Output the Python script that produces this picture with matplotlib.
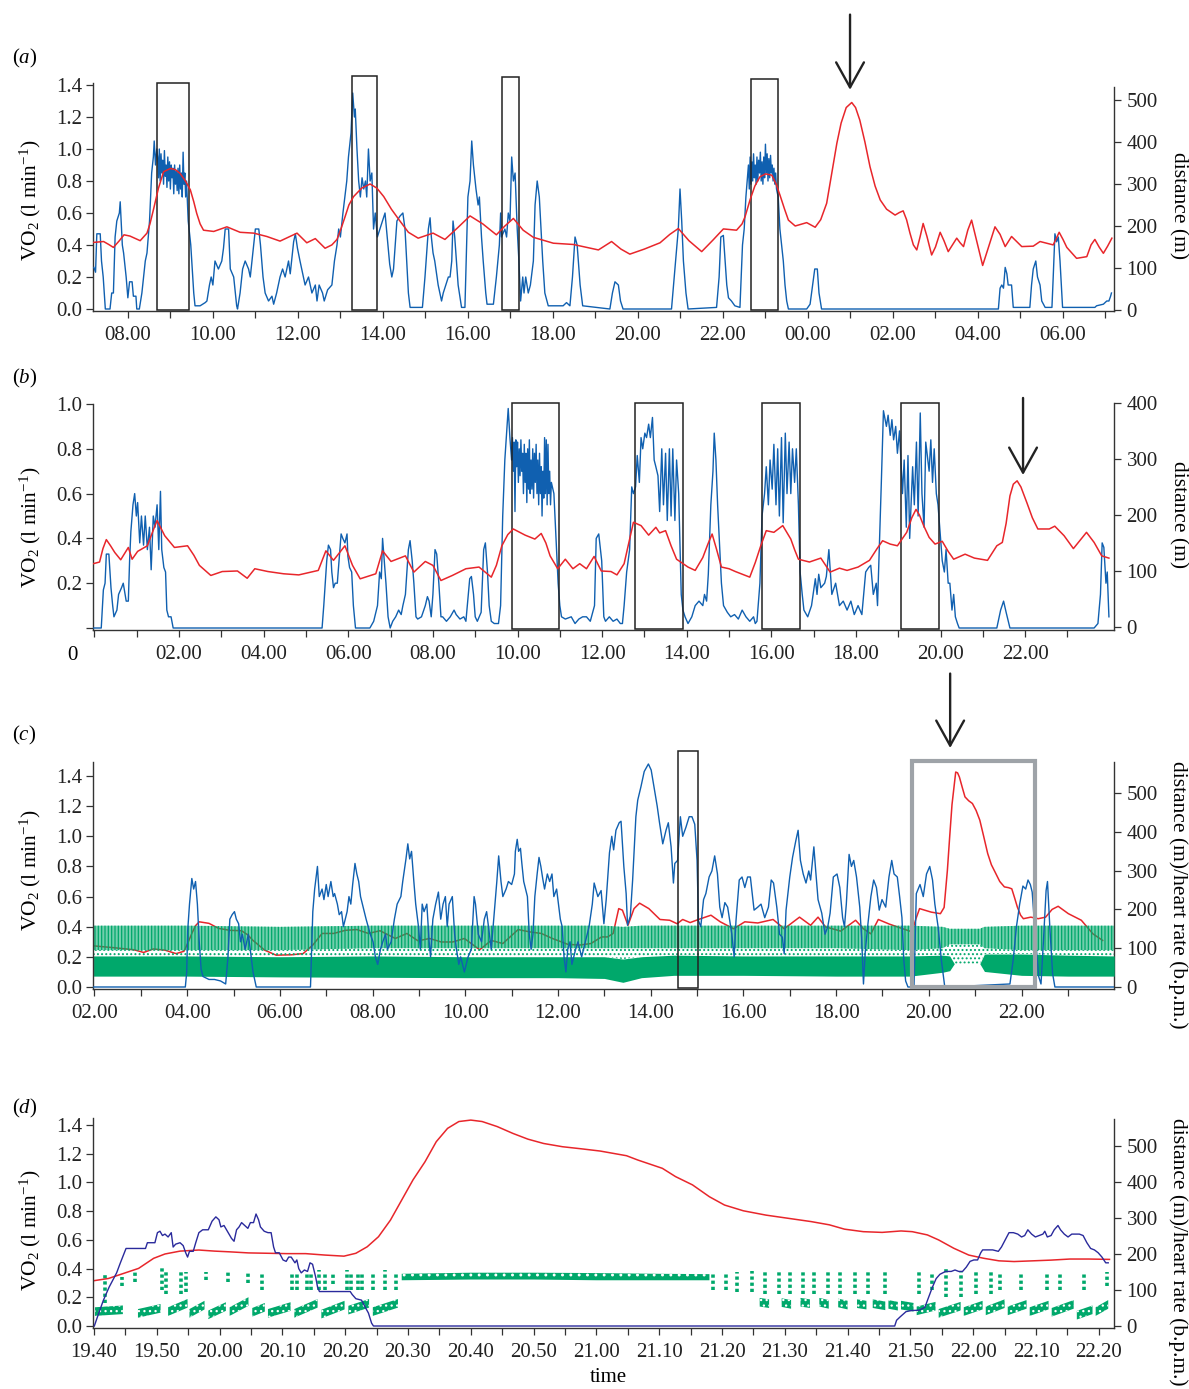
import numpy as np
import matplotlib
matplotlib.use('Agg')
import matplotlib.pyplot as plt
from matplotlib.patches import Rectangle, FancyArrowPatch

plt.rcParams['font.family'] = ['Liberation Serif', 'DejaVu Serif']
plt.rcParams['mathtext.fontset'] = 'custom'
plt.rcParams['mathtext.rm'] = 'Liberation Serif'
plt.rcParams['mathtext.it'] = 'Liberation Serif:italic'
plt.rcParams['hatch.linewidth'] = 0.9

BLUE = '#1060b0'
NAVY = '#2a2a9c'
RED = '#e8262b'
GREEN = '#00a86b'
DARK = '#222222'
GREY = '#9ea3a8'

# ---------------- panel (a): hours (past midnight -> >24) ----------------
vo2_a = [
    (7.20, 0.26), (7.24, 0.23), (7.27, 0.47), (7.35, 0.47), (7.38, 0.30), (7.42, 0.20), (7.47, 0.0),
    (7.58, 0.0), (7.62, 0.10), (7.66, 0.10), (7.70, 0.45), (7.74, 0.55), (7.80, 0.60), (7.82, 0.67),
    (7.87, 0.40), (7.90, 0.35), (7.96, 0.20), (8.00, 0.07), (8.04, 0.17), (8.10, 0.17), (8.13, 0.08),
    (8.19, 0.08), (8.21, 0.0), (8.27, 0.0), (8.33, 0.10), (8.41, 0.30), (8.45, 0.35), (8.51, 0.55),
    (8.56, 0.85), (8.60, 0.95), (8.62, 1.05), (8.65, 0.90), (8.68, 1.0),
    (8.70, 0.95), (8.72, 0.82), (8.74, 1.0), (8.76, 0.80), (8.78, 0.97), (8.80, 0.85), (8.82, 0.93),
    (8.84, 0.78), (8.86, 0.99), (8.88, 0.83), (8.90, 0.90), (8.92, 0.76), (8.94, 0.95), (8.96, 0.80),
    (8.98, 0.92), (9.00, 0.75), (9.02, 0.90), (9.04, 0.82), (9.06, 0.88), (9.08, 0.72), (9.10, 0.90),
    (9.12, 0.78), (9.14, 0.86), (9.16, 0.74), (9.18, 0.88), (9.20, 0.72), (9.22, 0.90), (9.24, 0.75),
    (9.26, 0.85), (9.28, 0.70), (9.30, 0.98), (9.32, 0.78), (9.34, 0.85), (9.36, 0.70), (9.38, 0.80),
    (9.42, 0.55), (9.48, 0.40), (9.55, 0.10), (9.58, 0.02), (9.70, 0.02), (9.82, 0.04), (9.86, 0.05),
    (9.92, 0.15), (9.96, 0.20), (10.00, 0.15), (10.05, 0.30), (10.13, 0.25), (10.21, 0.30), (10.25, 0.38),
    (10.29, 0.50), (10.33, 0.50), (10.37, 0.50), (10.41, 0.25), (10.49, 0.20), (10.56, 0.02), (10.58, 0.0),
    (10.64, 0.10), (10.70, 0.25), (10.76, 0.30), (10.84, 0.25), (10.88, 0.20), (10.96, 0.40), (11.00, 0.50),
    (11.08, 0.50), (11.12, 0.40), (11.18, 0.20), (11.23, 0.10), (11.31, 0.05), (11.39, 0.08), (11.43, 0.03),
    (11.50, 0.10), (11.58, 0.20), (11.64, 0.25), (11.70, 0.20), (11.78, 0.30), (11.82, 0.22), (11.90, 0.42),
    (11.94, 0.47), (11.99, 0.38), (12.05, 0.30), (12.13, 0.20), (12.17, 0.15), (12.25, 0.20), (12.33, 0.10),
    (12.41, 0.15), (12.45, 0.05), (12.50, 0.15), (12.58, 0.10), (12.62, 0.05), (12.70, 0.12), (12.80, 0.15),
    (12.84, 0.25), (12.86, 0.30), (12.92, 0.40), (12.96, 0.50), (13.00, 0.45), (13.06, 0.60), (13.15, 0.80),
    (13.19, 0.95), (13.25, 1.10), (13.29, 1.35), (13.33, 1.20), (13.35, 1.25), (13.39, 1.00), (13.43, 0.80),
    (13.47, 0.70), (13.51, 0.82), (13.55, 0.75), (13.59, 0.80), (13.62, 0.70), (13.66, 1.00), (13.70, 0.80),
    (13.74, 0.85), (13.78, 0.50), (13.82, 0.60), (13.87, 0.45), (13.93, 0.50), (14.05, 0.60), (14.16, 0.28),
    (14.21, 0.20), (14.25, 0.25), (14.33, 0.55), (14.40, 0.58), (14.47, 0.60), (14.52, 0.50), (14.56, 0.30),
    (14.60, 0.10), (14.64, 0.01), (14.93, 0.01), (14.99, 0.20), (15.07, 0.50), (15.11, 0.57), (15.14, 0.45),
    (15.18, 0.35), (15.22, 0.30), (15.30, 0.15), (15.38, 0.05), (15.42, 0.10), (15.54, 0.20), (15.58, 0.20),
    (15.62, 0.30), (15.65, 0.55), (15.69, 0.45), (15.77, 0.15), (15.85, 0.01), (15.93, 0.01), (15.97, 0.40),
    (16.00, 0.70), (16.05, 0.80), (16.09, 1.05), (16.13, 0.90), (16.19, 0.75), (16.24, 0.65), (16.27, 0.70),
    (16.32, 0.45), (16.36, 0.30), (16.42, 0.10), (16.45, 0.03), (16.60, 0.03), (16.67, 0.20), (16.74, 0.40),
    (16.77, 0.60), (16.79, 0.45), (16.87, 0.50), (16.91, 0.45), (16.95, 0.60), (16.99, 0.55), (17.03, 0.95),
    (17.07, 0.80), (17.11, 0.85), (17.16, 0.50), (17.20, 0.30), (17.24, 0.05), (17.29, 0.20), (17.32, 0.10),
    (17.36, 0.20), (17.42, 0.10), (17.47, 0.15), (17.54, 0.30), (17.58, 0.65), (17.63, 0.80), (17.68, 0.70),
    (17.76, 0.30), (17.81, 0.10), (17.89, 0.02), (18.24, 0.02), (18.32, 0.04), (18.40, 0.02), (18.46, 0.20),
    (18.52, 0.45), (18.57, 0.40), (18.64, 0.15), (18.70, 0.02), (19.34, 0.0), (19.40, 0.10), (19.46, 0.17),
    (19.54, 0.15), (19.59, 0.05), (19.65, 0.0), (20.79, 0.0), (20.87, 0.25), (20.95, 0.50), (20.99, 0.75),
    (21.03, 0.55), (21.07, 0.30), (21.13, 0.10), (21.18, 0.0), (21.85, 0.01), (21.91, 0.20), (21.95, 0.45),
    (22.01, 0.46), (22.05, 0.30), (22.09, 0.15), (22.13, 0.07), (22.20, 0.05), (22.28, 0.02), (22.40, 0.01),
    (22.46, 0.40), (22.50, 0.50), (22.54, 0.70), (22.60, 0.90),
    (22.62, 0.75), (22.64, 0.95), (22.66, 0.78), (22.68, 0.92), (22.70, 0.80), (22.72, 0.97), (22.74, 0.82),
    (22.76, 0.90), (22.78, 0.78), (22.80, 0.95), (22.82, 0.80), (22.84, 0.93), (22.86, 0.85), (22.88, 0.98),
    (22.90, 0.80), (22.92, 0.92), (22.94, 0.78), (22.96, 0.95), (22.98, 0.82), (23.00, 1.03), (23.02, 0.85),
    (23.04, 0.97), (23.06, 0.80), (23.08, 0.94), (23.10, 0.82), (23.12, 0.96), (23.14, 0.85), (23.16, 0.90),
    (23.18, 0.80), (23.20, 0.88), (23.22, 0.78), (23.24, 0.85), (23.26, 0.75),
    (23.30, 0.70), (23.34, 0.50), (23.38, 0.40), (23.42, 0.30), (23.46, 0.15), (23.50, 0.05), (23.54, 0.0),
    (23.97, 0.0), (24.05, 0.03), (24.11, 0.15), (24.16, 0.25), (24.22, 0.25), (24.26, 0.10), (24.32, 0.0),
    (28.48, 0.0), (28.52, 0.13), (28.56, 0.15), (28.60, 0.13), (28.64, 0.26), (28.68, 0.22), (28.71, 0.15),
    (28.79, 0.15), (28.83, 0.01), (29.22, 0.01), (29.26, 0.15), (29.30, 0.25), (29.36, 0.30), (29.40, 0.20),
    (29.46, 0.15), (29.50, 0.05), (29.58, 0.01), (29.74, 0.01), (29.77, 0.20), (29.81, 0.47), (29.85, 0.42),
    (29.89, 0.45), (29.93, 0.30), (29.99, 0.01), (30.75, 0.01), (30.79, 0.02), (30.95, 0.03), (31.03, 0.05),
    (31.08, 0.05), (31.12, 0.08), (31.14, 0.10),
]
dist_a = [
    (7.20, 161), (7.43, 163), (7.55, 156), (7.66, 149), (7.80, 165), (7.91, 179), (8.05, 176), (8.29, 165),
    (8.45, 183), (8.52, 205), (8.60, 238), (8.72, 290), (8.84, 329), (9.00, 337), (9.12, 334), (9.23, 325),
    (9.35, 308), (9.47, 286), (9.55, 258), (9.62, 230), (9.70, 205), (9.78, 190), (10.02, 187), (10.33, 198),
    (10.64, 185), (10.96, 183), (11.27, 175), (11.58, 164), (11.98, 183), (12.21, 160), (12.41, 170),
    (12.64, 147), (12.80, 155), (12.92, 168), (13.02, 195), (13.11, 222), (13.20, 250), (13.31, 270),
    (13.50, 290), (13.70, 300), (13.86, 290), (14.02, 270), (14.20, 240), (14.40, 212), (14.60, 185),
    (14.83, 171), (15.18, 183), (15.46, 168), (15.75, 195), (16.05, 224), (16.35, 205), (16.67, 179),
    (16.87, 200), (17.07, 218), (17.30, 190), (17.54, 173), (18.01, 159), (18.48, 156), (19.07, 143),
    (19.38, 163), (19.60, 145), (19.81, 133), (20.15, 145), (20.52, 160), (20.75, 180), (20.95, 194),
    (21.20, 165), (21.50, 139), (21.77, 167), (22.01, 193), (22.32, 190), (22.45, 205), (22.52, 222),
    (22.64, 263), (22.75, 295), (22.87, 317), (23.00, 324), (23.15, 321), (23.25, 300), (23.34, 274),
    (23.45, 240), (23.54, 214), (23.70, 200), (23.97, 208), (24.17, 197), (24.30, 215), (24.44, 254),
    (24.55, 320), (24.68, 397), (24.78, 445), (24.90, 482), (25.03, 494), (25.12, 482), (25.22, 452),
    (25.34, 400), (25.46, 341), (25.58, 295), (25.70, 262), (25.85, 240), (26.05, 226), (26.15, 232),
    (26.24, 236), (26.32, 215), (26.40, 183), (26.48, 155), (26.56, 143), (26.64, 175), (26.71, 206),
    (26.80, 175), (26.91, 131), (27.00, 150), (27.11, 185), (27.20, 165), (27.30, 139), (27.40, 155),
    (27.50, 171), (27.58, 160), (27.66, 151), (27.76, 190), (27.85, 214), (27.98, 160), (28.11, 106),
    (28.25, 150), (28.40, 198), (28.52, 180), (28.64, 151), (28.79, 175), (29.03, 151), (29.30, 152),
    (29.46, 163), (29.77, 155), (29.91, 185), (30.00, 168), (30.09, 149), (30.32, 123), (30.56, 127),
    (30.66, 155), (30.75, 168), (30.85, 150), (30.95, 135), (31.05, 152), (31.15, 171),
]
box_a_t0 = [8.69, 13.27, 16.80, 22.66]
box_a_t1 = [9.44, 13.86, 17.20, 23.30]
box_a_top = [1.41, 1.456, 1.45, 1.44]
arrow_a = (24.99, 1.84, 1.37)

# ---------------- panel (b) ----------------
vo2_b = [
    (-0.03, 0.0), (0.16, 0.0), (0.21, 0.17), (0.25, 0.20), (0.28, 0.33), (0.34, 0.33), (0.39, 0.18),
    (0.43, 0.10), (0.46, 0.05), (0.53, 0.08), (0.57, 0.15), (0.64, 0.18), (0.68, 0.20), (0.75, 0.12),
    (0.80, 0.12), (0.83, 0.30), (0.86, 0.43), (0.91, 0.55), (0.95, 0.60), (0.99, 0.50), (1.02, 0.56),
    (1.07, 0.38), (1.11, 0.50), (1.16, 0.37), (1.20, 0.50), (1.25, 0.35), (1.30, 0.45), (1.34, 0.26),
    (1.39, 0.50), (1.43, 0.45), (1.48, 0.55), (1.52, 0.35), (1.56, 0.61), (1.59, 0.35), (1.64, 0.27),
    (1.68, 0.25), (1.71, 0.08), (1.75, 0.05), (1.81, 0.05), (1.86, 0.0), (5.38, 0.0), (5.42, 0.10),
    (5.49, 0.30), (5.53, 0.37), (5.58, 0.35), (5.61, 0.25), (5.65, 0.18), (5.69, 0.20), (5.74, 0.20),
    (5.78, 0.30), (5.83, 0.42), (5.87, 0.40), (5.92, 0.38), (5.97, 0.42), (5.99, 0.32), (6.03, 0.27),
    (6.08, 0.25), (6.12, 0.10), (6.17, 0.0), (6.51, 0.0), (6.60, 0.03), (6.69, 0.10), (6.74, 0.25),
    (6.78, 0.22), (6.81, 0.40), (6.85, 0.30), (6.89, 0.20), (6.94, 0.05), (6.99, 0.0), (7.05, 0.03),
    (7.12, 0.05), (7.19, 0.08), (7.25, 0.06), (7.29, 0.10), (7.35, 0.15), (7.42, 0.35), (7.46, 0.39),
    (7.51, 0.30), (7.55, 0.20), (7.60, 0.05), (7.64, 0.04), (7.73, 0.05), (7.82, 0.10), (7.87, 0.14),
    (7.91, 0.12), (7.96, 0.05), (8.00, 0.15), (8.05, 0.35), (8.09, 0.33), (8.14, 0.20), (8.19, 0.05),
    (8.23, 0.05), (8.32, 0.03), (8.41, 0.05), (8.50, 0.08), (8.55, 0.06), (8.64, 0.04), (8.73, 0.05),
    (8.78, 0.03), (8.87, 0.22), (8.91, 0.23), (8.96, 0.15), (9.00, 0.05), (9.05, 0.03), (9.14, 0.07),
    (9.20, 0.35), (9.24, 0.38), (9.29, 0.25), (9.33, 0.10), (9.38, 0.03), (9.45, 0.02), (9.55, 0.02),
    (9.60, 0.10), (9.65, 0.50), (9.70, 0.75), (9.78, 0.98), (9.82, 0.85), (9.86, 0.75),
    (9.88, 0.85), (9.90, 0.70), (9.92, 0.83), (9.94, 0.52), (9.96, 0.84), (9.98, 0.72), (10.00, 0.83),
    (10.02, 0.65), (10.04, 0.80), (10.06, 0.68), (10.08, 0.84), (10.10, 0.70), (10.12, 0.78), (10.14, 0.60),
    (10.16, 0.82), (10.18, 0.65), (10.20, 0.78), (10.22, 0.56), (10.24, 0.80), (10.26, 0.62), (10.28, 0.84),
    (10.30, 0.60), (10.32, 0.75), (10.34, 0.62), (10.36, 0.80), (10.38, 0.58), (10.40, 0.78), (10.42, 0.65),
    (10.44, 0.82), (10.46, 0.60), (10.48, 0.75), (10.50, 0.55), (10.52, 0.78), (10.54, 0.60), (10.56, 0.72),
    (10.58, 0.50), (10.60, 0.70), (10.62, 0.58), (10.64, 0.85), (10.66, 0.60), (10.68, 0.84), (10.70, 0.55),
    (10.72, 0.82), (10.74, 0.60), (10.76, 0.70), (10.78, 0.55), (10.80, 0.65),
    (10.86, 0.60), (10.91, 0.40), (10.96, 0.20), (11.00, 0.10), (11.04, 0.05), (11.13, 0.04), (11.27, 0.05),
    (11.36, 0.02), (11.45, 0.04), (11.54, 0.05), (11.63, 0.05), (11.72, 0.03), (11.82, 0.10), (11.86, 0.40),
    (11.92, 0.42), (11.99, 0.30), (12.04, 0.05), (12.08, 0.03), (12.17, 0.05), (12.26, 0.03), (12.35, 0.04),
    (12.43, 0.02), (12.48, 0.02), (12.52, 0.10), (12.58, 0.25), (12.65, 0.35), (12.70, 0.63), (12.74, 0.60),
    (12.79, 0.63), (12.83, 0.77), (12.88, 0.65), (12.92, 0.85), (12.96, 0.80), (13.01, 0.87), (13.05, 0.85),
    (13.10, 0.91), (13.14, 0.85), (13.19, 0.94), (13.23, 0.75), (13.27, 0.72), (13.32, 0.68), (13.36, 0.52),
    (13.41, 0.80), (13.45, 0.55), (13.50, 0.78), (13.54, 0.48), (13.59, 0.80), (13.63, 0.50), (13.67, 0.80),
    (13.72, 0.48), (13.76, 0.75), (13.81, 0.60), (13.83, 0.45), (13.87, 0.15), (13.91, 0.08), (13.96, 0.05),
    (14.03, 0.02), (14.12, 0.05), (14.20, 0.10), (14.29, 0.12), (14.38, 0.10), (14.42, 0.15), (14.47, 0.12),
    (14.51, 0.24), (14.57, 0.55), (14.62, 0.70), (14.65, 0.87), (14.69, 0.75), (14.73, 0.55), (14.78, 0.35),
    (14.82, 0.20), (14.87, 0.10), (14.96, 0.07), (15.04, 0.05), (15.13, 0.06), (15.22, 0.04), (15.31, 0.08),
    (15.40, 0.05), (15.49, 0.03), (15.58, 0.05), (15.62, 0.02), (15.66, 0.03), (15.73, 0.20), (15.78, 0.50),
    (15.84, 0.60), (15.88, 0.72), (15.93, 0.55), (15.97, 0.75), (16.02, 0.62), (16.06, 0.82), (16.11, 0.55),
    (16.15, 0.80), (16.19, 0.50), (16.24, 0.85), (16.28, 0.47), (16.33, 0.87), (16.37, 0.60), (16.42, 0.83),
    (16.46, 0.60), (16.50, 0.80), (16.55, 0.65), (16.59, 0.80), (16.64, 0.55), (16.68, 0.25), (16.73, 0.15),
    (16.77, 0.08), (16.86, 0.05), (16.95, 0.10), (17.04, 0.22), (17.08, 0.15), (17.12, 0.24), (17.17, 0.18),
    (17.26, 0.20), (17.30, 0.23), (17.36, 0.35), (17.43, 0.15), (17.52, 0.20), (17.61, 0.10), (17.70, 0.12),
    (17.79, 0.08), (17.88, 0.12), (17.96, 0.06), (18.05, 0.10), (18.14, 0.06), (18.23, 0.25), (18.30, 0.27),
    (18.35, 0.28), (18.41, 0.15), (18.48, 0.20), (18.51, 0.10), (18.56, 0.40), (18.60, 0.65), (18.65, 0.97),
    (18.72, 0.90), (18.76, 0.95), (18.81, 0.86), (18.85, 0.93), (18.89, 0.84), (18.94, 0.90), (18.98, 0.78),
    (19.03, 0.88), (19.05, 0.80), (19.10, 0.60), (19.14, 0.75), (19.19, 0.45), (19.23, 0.77), (19.27, 0.40),
    (19.34, 0.72), (19.38, 0.55), (19.43, 0.83), (19.47, 0.50), (19.52, 0.96), (19.56, 0.60), (19.61, 0.45),
    (19.65, 0.83), (19.73, 0.70), (19.77, 0.84), (19.81, 0.65), (19.85, 0.80), (19.90, 0.60), (19.94, 0.55),
    (19.98, 0.45), (20.04, 0.30), (20.09, 0.25), (20.13, 0.35), (20.18, 0.20), (20.22, 0.20), (20.27, 0.08),
    (20.31, 0.15), (20.35, 0.05), (20.40, 0.02), (20.44, 0.0), (21.33, 0.0), (21.42, 0.08), (21.49, 0.12),
    (21.55, 0.07), (21.64, 0.0), (23.63, 0.0), (23.72, 0.02), (23.78, 0.15), (23.82, 0.38), (23.86, 0.36),
    (23.91, 0.20), (23.94, 0.25), (23.98, 0.05),
]
dist_b = [
    (-0.03, 113), (0.12, 116), (0.20, 140), (0.28, 156), (0.38, 145), (0.48, 133), (0.62, 120), (0.80, 142),
    (0.89, 121), (1.02, 135), (1.25, 145), (1.40, 175), (1.48, 190), (1.56, 178), (1.66, 163), (1.89, 142),
    (2.20, 145), (2.35, 128), (2.48, 110), (2.75, 92), (3.02, 99), (3.38, 100), (3.61, 87), (3.79, 104),
    (4.10, 99), (4.47, 95), (4.83, 93), (5.29, 101), (5.47, 136), (5.65, 119), (5.92, 145), (6.10, 110),
    (6.28, 86), (6.65, 95), (6.81, 136), (7.01, 117), (7.35, 127), (7.55, 98), (7.82, 117), (8.00, 110),
    (8.19, 83), (8.46, 92), (8.78, 104), (9.09, 107), (9.38, 89), (9.50, 110), (9.63, 145), (9.77, 165),
    (9.90, 175), (10.18, 164), (10.41, 157), (10.56, 167), (10.67, 150), (10.77, 127), (10.95, 104),
    (11.13, 121), (11.31, 104), (11.47, 113), (11.63, 104), (11.81, 126), (11.98, 100), (12.21, 99),
    (12.35, 93), (12.52, 113), (12.63, 150), (12.74, 187), (12.92, 181), (13.10, 164), (13.27, 178),
    (13.36, 168), (13.50, 172), (13.63, 145), (13.76, 121), (14.03, 107), (14.20, 101), (14.38, 124),
    (14.50, 148), (14.60, 166), (14.70, 140), (14.82, 107), (15.00, 104), (15.15, 99), (15.49, 89),
    (15.62, 115), (15.75, 145), (15.88, 172), (16.06, 169), (16.27, 181), (16.46, 157), (16.55, 138),
    (16.64, 121), (16.90, 116), (17.17, 123), (17.39, 98), (17.61, 105), (17.79, 101), (18.05, 107),
    (18.32, 119), (18.50, 140), (18.63, 154), (18.81, 148), (18.98, 145), (19.20, 169), (19.32, 195),
    (19.42, 210), (19.50, 200), (19.60, 181), (19.73, 160), (19.87, 148), (20.04, 153), (20.18, 135),
    (20.31, 121), (20.58, 130), (20.80, 123), (21.11, 119), (21.33, 145), (21.46, 151), (21.55, 185),
    (21.64, 234), (21.72, 255), (21.81, 261), (21.90, 250), (22.04, 222), (22.17, 195), (22.30, 175),
    (22.57, 175), (22.70, 180), (22.92, 163), (23.14, 140), (23.30, 155), (23.45, 169), (23.63, 151),
    (23.81, 127), (23.98, 123),
]
box_b_t0 = [9.86, 12.77, 15.77, 19.06]
box_b_t1 = [10.99, 13.90, 16.67, 19.96]
box_b_top = [1.004, 1.004, 1.004, 1.004]
arrow_b = (21.95, 1.027, 0.683)

# ---------------- panel (c) ----------------
vo2_c = [
    (1.98, 0.0), (3.96, 0.0), (3.99, 0.10), (4.01, 0.37), (4.05, 0.55), (4.10, 0.72), (4.14, 0.65),
    (4.18, 0.70), (4.22, 0.55), (4.26, 0.30), (4.30, 0.12), (4.34, 0.07), (4.47, 0.05), (4.59, 0.05),
    (4.72, 0.04), (4.83, 0.02), (4.88, 0.20), (4.92, 0.45), (4.97, 0.48), (5.02, 0.50), (5.06, 0.45),
    (5.11, 0.42), (5.15, 0.30), (5.19, 0.35), (5.25, 0.25), (5.32, 0.35), (5.38, 0.20), (5.42, 0.10),
    (5.49, 0.0), (6.66, 0.0), (6.71, 0.50), (6.75, 0.65), (6.81, 0.80), (6.85, 0.60), (6.91, 0.65),
    (6.95, 0.58), (7.00, 0.68), (7.04, 0.60), (7.10, 0.70), (7.15, 0.60), (7.18, 0.62), (7.24, 0.55),
    (7.28, 0.48), (7.33, 0.50), (7.37, 0.40), (7.45, 0.50), (7.49, 0.60), (7.53, 0.55), (7.57, 0.68),
    (7.62, 0.82), (7.66, 0.75), (7.70, 0.70), (7.74, 0.60), (7.78, 0.55), (7.86, 0.45), (7.95, 0.35),
    (8.01, 0.30), (8.06, 0.20), (8.11, 0.15), (8.17, 0.25), (8.22, 0.30), (8.28, 0.35), (8.32, 0.25),
    (8.40, 0.30), (8.47, 0.45), (8.53, 0.55), (8.61, 0.60), (8.65, 0.70), (8.72, 0.85), (8.76, 0.95),
    (8.80, 0.85), (8.84, 0.90), (8.89, 0.70), (8.93, 0.55), (8.99, 0.40), (9.03, 0.25), (9.07, 0.55),
    (9.11, 0.50), (9.17, 0.55), (9.22, 0.30), (9.25, 0.20), (9.30, 0.45), (9.36, 0.55), (9.42, 0.63),
    (9.47, 0.45), (9.52, 0.55), (9.57, 0.60), (9.61, 0.40), (9.65, 0.55), (9.72, 0.60), (9.77, 0.35),
    (9.81, 0.25), (9.86, 0.15), (9.90, 0.20), (9.98, 0.10), (10.06, 0.20), (10.13, 0.25), (10.19, 0.60),
    (10.22, 0.55), (10.28, 0.35), (10.35, 0.30), (10.41, 0.45), (10.46, 0.50), (10.52, 0.35), (10.56, 0.25),
    (10.64, 0.55), (10.68, 0.70), (10.72, 0.87), (10.77, 0.70), (10.81, 0.60), (10.88, 0.65), (10.93, 0.70),
    (11.00, 0.68), (11.06, 0.75), (11.08, 0.90), (11.12, 0.98), (11.15, 0.90), (11.19, 0.92), (11.22, 0.82),
    (11.26, 0.70), (11.30, 0.65), (11.34, 0.60), (11.38, 0.35), (11.42, 0.25), (11.46, 0.35), (11.50, 0.60),
    (11.55, 0.75), (11.59, 0.86), (11.63, 0.80), (11.67, 0.72), (11.71, 0.65), (11.77, 0.75), (11.82, 0.70),
    (11.87, 0.75), (11.91, 0.60), (11.97, 0.65), (12.01, 0.55), (12.05, 0.45), (12.09, 0.40), (12.13, 0.20),
    (12.17, 0.10), (12.21, 0.25), (12.26, 0.30), (12.30, 0.15), (12.38, 0.25), (12.43, 0.30), (12.51, 0.20),
    (12.59, 0.30), (12.67, 0.40), (12.74, 0.55), (12.78, 0.69), (12.86, 0.60), (12.93, 0.64), (12.99, 0.42),
    (13.04, 0.58), (13.11, 0.89), (13.16, 1.00), (13.20, 0.91), (13.25, 1.04), (13.32, 1.09), (13.36, 1.10),
    (13.42, 0.80), (13.47, 0.62), (13.50, 0.41), (13.56, 0.47), (13.61, 0.71), (13.68, 1.13), (13.72, 1.24),
    (13.79, 1.33), (13.86, 1.43), (13.95, 1.48), (14.01, 1.44), (14.08, 1.31), (14.14, 1.20), (14.19, 1.09),
    (14.26, 0.95), (14.33, 1.04), (14.38, 1.09), (14.44, 0.93), (14.49, 0.69), (14.52, 0.82), (14.58, 0.84),
    (14.64, 1.13), (14.69, 1.00), (14.76, 1.06), (14.83, 1.13), (14.89, 1.13), (14.95, 1.08), (15.00, 0.84),
    (15.03, 0.44), (15.08, 0.40), (15.14, 0.58), (15.19, 0.62), (15.26, 0.73), (15.32, 0.77), (15.38, 0.87),
    (15.44, 0.75), (15.49, 0.53), (15.54, 0.46), (15.60, 0.56), (15.66, 0.53), (15.75, 0.35), (15.80, 0.20),
    (15.84, 0.44), (15.91, 0.71), (15.97, 0.73), (16.03, 0.66), (16.09, 0.73), (16.15, 0.73), (16.23, 0.51),
    (16.31, 0.53), (16.38, 0.55), (16.46, 0.46), (16.54, 0.53), (16.60, 0.71), (16.65, 0.69), (16.72, 0.53),
    (16.78, 0.35), (16.84, 0.33), (16.88, 0.22), (16.92, 0.51), (17.00, 0.73), (17.06, 0.86), (17.13, 0.97),
    (17.18, 1.04), (17.23, 0.84), (17.29, 0.75), (17.35, 0.69), (17.41, 0.77), (17.45, 0.71), (17.52, 0.93),
    (17.56, 0.77), (17.61, 0.58), (17.69, 0.49), (17.76, 0.35), (17.82, 0.40), (17.87, 0.49), (17.94, 0.73),
    (18.02, 0.75), (18.08, 0.66), (18.14, 0.46), (18.18, 0.40), (18.22, 0.55), (18.28, 0.88), (18.33, 0.80),
    (18.38, 0.84), (18.44, 0.73), (18.51, 0.53), (18.55, 0.33), (18.59, 0.02), (18.63, 0.24), (18.68, 0.40),
    (18.75, 0.60), (18.81, 0.71), (18.87, 0.66), (18.93, 0.51), (18.99, 0.58), (19.07, 0.53), (19.14, 0.73),
    (19.20, 0.84), (19.25, 0.75), (19.32, 0.73), (19.37, 0.60), (19.42, 0.46), (19.46, 0.18), (19.50, 0.04),
    (19.55, 0.0), (19.68, 0.0), (19.73, 0.62), (19.81, 0.68), (19.88, 0.60), (19.95, 0.75), (20.02, 0.80),
    (20.08, 0.71), (20.13, 0.55), (20.20, 0.40), (20.27, 0.18), (20.34, 0.01), (20.40, 0.0), (21.75, 0.02),
    (21.82, 0.18), (21.89, 0.40), (21.96, 0.55), (22.03, 0.67), (22.09, 0.65), (22.14, 0.71), (22.19, 0.68),
    (22.23, 0.63), (22.31, 0.29), (22.37, 0.07), (22.42, 0.02), (22.47, 0.29), (22.53, 0.64), (22.56, 0.70),
    (22.61, 0.40), (22.67, 0.09), (22.72, 0.0), (24.0, 0.0),
]
dist_c = [
    (1.98, 106), (2.44, 101), (2.85, 96), (3.06, 89), (3.27, 98), (3.52, 95), (3.76, 86), (3.93, 92),
    (4.02, 115), (4.10, 138), (4.18, 158), (4.26, 168), (4.47, 164), (4.68, 151), (4.92, 146), (5.17, 145),
    (5.30, 135), (5.42, 120), (5.67, 95), (5.92, 82), (6.25, 83), (6.50, 86), (6.71, 108), (6.91, 138),
    (7.16, 138), (7.41, 146), (7.66, 148), (7.91, 138), (8.16, 145), (8.49, 125), (8.74, 138), (8.98, 119),
    (9.23, 125), (9.48, 116), (9.73, 116), (9.98, 125), (10.31, 96), (10.56, 120), (10.81, 112),
    (11.14, 148), (11.39, 142), (11.64, 138), (11.88, 125), (12.21, 110), (12.46, 108), (12.71, 112),
    (12.94, 129), (13.07, 129), (13.19, 138), (13.31, 202), (13.39, 198), (13.51, 159), (13.64, 202),
    (13.76, 216), (13.96, 202), (14.20, 174), (14.41, 172), (14.57, 163), (14.69, 174), (14.85, 166),
    (15.03, 174), (15.30, 185), (15.50, 168), (15.79, 150), (16.03, 168), (16.31, 165), (16.64, 174),
    (16.88, 150), (17.21, 180), (17.45, 159), (17.61, 180), (17.77, 155), (18.10, 144), (18.42, 172),
    (18.59, 150), (18.75, 137), (18.91, 174), (19.15, 162), (19.44, 150), (19.64, 142), (19.72, 175),
    (19.80, 202), (20.05, 193), (20.25, 189), (20.33, 205), (20.40, 300), (20.45, 387), (20.50, 470),
    (20.58, 554), (20.62, 552), (20.66, 541), (20.72, 515), (20.78, 490), (20.86, 480), (20.94, 473),
    (21.02, 455), (21.10, 430), (21.18, 390), (21.27, 344), (21.35, 315), (21.43, 296), (21.53, 272),
    (21.63, 258), (21.72, 256), (21.79, 253), (21.85, 230), (21.91, 206), (21.98, 185), (22.04, 176),
    (22.20, 180), (22.36, 176), (22.52, 180), (22.66, 200), (22.79, 208), (23.01, 189), (23.29, 172),
    (23.54, 137), (23.75, 120),
]
# heart rate clouds in (c): envelopes of the dense lower band and the streaky upper band (b.p.m.)
hr_c_t = [1.98, 4.0, 6.0, 8.0, 10.0, 12.0, 13.0, 13.4, 13.8, 14.5, 16.0, 18.0, 19.6, 20.3, 20.45,
          20.55, 21.1, 21.2, 22.0, 23.0, 24.0]
hr_c_low_bot = [28, 28, 26, 25, 24, 24, 22, 12, 24, 30, 30, 28, 28, 38, 42, 60, 60, 40, 30, 28, 28]
hr_c_low_top = [80, 80, 78, 80, 78, 78, 78, 72, 78, 82, 80, 80, 80, 82, 80, 60, 60, 85, 85, 82, 80]
hr_c_up_bot = [95, 95, 95, 100, 100, 100, 100, 100, 100, 100, 100, 100, 95, 100, 110, 110, 110, 100, 95, 95, 95]
hr_c_up_top = [158, 158, 155, 158, 158, 158, 158, 155, 158, 158, 158, 158, 158, 155, 150, 150, 150, 155, 158, 158, 158]
box_c_t0, box_c_t1, box_c_top = 14.59, 15.02, 1.566
grey_c_t0, grey_c_t1, grey_c_top = 19.64, 22.29, 1.50
arrow_c = (20.46, 2.08, 1.586)

# ---------------- panel (d): minutes after 19.40 ----------------
vo2_d = [
    (0.05, 0.0), (0.6, 0.07), (1.5, 0.18), (2.4, 0.27), (3.0, 0.32), (3.6, 0.37), (4.2, 0.44), (5.1, 0.54),
    (8.2, 0.54), (8.5, 0.58), (9.7, 0.58), (10.1, 0.65), (10.5, 0.66), (10.9, 0.63), (11.3, 0.64),
    (11.8, 0.62), (12.3, 0.65), (12.6, 0.55), (13.0, 0.57), (13.7, 0.58), (14.2, 0.56), (14.6, 0.51),
    (14.9, 0.48), (15.2, 0.52), (15.8, 0.52), (16.2, 0.58), (16.7, 0.65), (17.3, 0.67), (18.2, 0.67),
    (18.8, 0.73), (19.4, 0.76), (19.9, 0.74), (20.2, 0.69), (20.7, 0.70), (21.1, 0.67), (21.5, 0.64),
    (21.9, 0.61), (22.3, 0.59), (22.7, 0.67), (23.1, 0.69), (23.5, 0.72), (24.0, 0.70), (24.5, 0.68),
    (24.9, 0.72), (25.4, 0.72), (25.8, 0.78), (26.2, 0.74), (26.5, 0.69), (27.1, 0.66), (27.7, 0.65),
    (28.2, 0.65), (28.6, 0.55), (28.9, 0.51), (29.5, 0.51), (30.1, 0.46), (30.6, 0.45), (31.0, 0.48),
    (31.4, 0.48), (32.0, 0.44), (32.3, 0.46), (32.6, 0.40), (33.0, 0.37), (33.5, 0.39), (34.0, 0.38),
    (34.4, 0.44), (34.8, 0.43), (35.3, 0.34), (35.6, 0.27), (35.9, 0.24), (40.5, 0.24), (40.8, 0.24),
    (41.1, 0.22), (41.7, 0.19), (42.6, 0.18), (43.2, 0.13), (43.7, 0.09), (44.2, 0.02), (44.5, 0.0),
    (127.5, 0.0), (127.8, 0.04), (128.4, 0.065), (129.3, 0.10), (130.2, 0.108), (131.4, 0.11),
    (132.3, 0.13), (132.9, 0.20), (133.5, 0.27), (134.1, 0.33), (134.7, 0.36), (135.6, 0.38), (136.5, 0.38),
    (137.1, 0.39), (137.7, 0.38), (138.3, 0.38), (138.9, 0.41), (139.5, 0.45), (140.1, 0.46), (140.7, 0.46),
    (141.2, 0.51), (141.5, 0.53), (142.2, 0.53), (143.1, 0.53), (144.0, 0.52), (144.5, 0.55), (145.1, 0.60),
    (145.7, 0.65), (146.4, 0.65), (147.1, 0.64), (147.7, 0.62), (148.2, 0.63), (148.7, 0.67), (149.3, 0.64),
    (149.9, 0.62), (150.5, 0.63), (151.1, 0.64), (151.4, 0.66), (151.8, 0.62), (152.4, 0.63), (152.9, 0.67),
    (153.5, 0.70), (153.9, 0.67), (154.5, 0.64), (155.1, 0.62), (155.7, 0.64), (156.3, 0.64), (156.9, 0.64),
    (157.5, 0.63), (158.1, 0.58), (158.7, 0.54), (159.3, 0.53), (159.9, 0.51), (160.5, 0.48), (161.1, 0.44),
    (161.5, 0.44),
]
dist_d = [
    (0.05, 126), (2.3, 132), (4.7, 146), (7.1, 160), (9.5, 188), (11.3, 200), (13.7, 208), (16.7, 211),
    (19.2, 208), (21.6, 206), (24.6, 203), (27.7, 202), (30.7, 201), (33.7, 201), (36.8, 197), (39.8, 194),
    (41.7, 202), (43.5, 220), (45.3, 248), (47.2, 294), (49.0, 350), (50.8, 406), (52.7, 456), (54.5, 512),
    (56.3, 549), (58.1, 568), (60.0, 572), (61.8, 568), (64.2, 554), (66.7, 535), (69.1, 519), (71.6, 507),
    (74.6, 498), (77.7, 492), (80.6, 486), (84.8, 473), (86.6, 461), (90.5, 438), (92.6, 415), (95.3, 392),
    (98.0, 359), (100.4, 336), (103.4, 320), (107.0, 308), (110.6, 299), (114.2, 290), (117.1, 281),
    (119.5, 269), (122.5, 262), (125.5, 260), (128.5, 264), (130.3, 262), (132.7, 253), (134.5, 239),
    (136.9, 216), (139.3, 197), (141.7, 188), (144.1, 181), (146.5, 179), (149.5, 181), (152.4, 183),
    (155.4, 186), (158.4, 186), (161.7, 185),
]
# heart rate (b.p.m.) in (d): low-rate dive clusters, surface streaks, continuous band while travelling
hr_d_dive_t0 = [0.15, 7.0, 11.8, 15.2, 18.2, 21.6, 25.2, 27.7, 31.9, 36.2, 40.5, 44.4, 106.0, 109.5,
                112.5, 115.5, 118.5, 121.5, 124.0, 126.5, 128.5, 131.0, 134.5, 138.5, 142.0, 145.5, 149.0,
                152.5, 156.5, 159.5]
hr_d_dive_t1 = [4.6, 10.6, 14.9, 17.6, 21.0, 24.6, 27.2, 31.3, 35.6, 39.9, 43.8, 48.4, 107.5, 111.0,
                114.0, 117.0, 120.0, 123.0, 126.0, 128.0, 130.5, 134.0, 138.0, 141.5, 145.0, 148.5, 152.0,
                156.0, 159.0, 161.5]
hr_d_dive_hr0 = [40, 35, 40, 35, 31, 40, 38, 35, 35, 33, 44, 40, 66, 65, 66, 66, 64, 62, 62, 60, 58, 42,
                 35, 40, 42, 42, 40, 38, 30, 40]
hr_d_dive_hr1 = [45, 49, 63, 58, 54, 68, 52, 54, 63, 58, 63, 63, 62, 60, 62, 60, 58, 58, 56, 55, 52, 55,
                 55, 58, 62, 60, 58, 60, 45, 60]
hr_d_streak_t = [1.8, 4.4, 6.6, 10.9, 11.5, 13.8, 14.6, 17.9, 21.3, 24.6, 26.7, 31.6, 32.4, 33.9, 34.5,
                 35.9, 36.8, 38.1, 40.3, 40.9, 42.1, 42.6, 44.4, 46.3, 48.1, 98.5, 100.6, 102.4, 104.8,
                 106.9, 109.0, 110.8, 112.9, 114.7, 116.8, 118.8, 121.2, 123.3, 126.0, 131.4, 133.5, 135.6,
                 138.0, 140.4, 142.8, 144.3, 147.6, 151.8, 153.9, 157.7, 161.3]
hr_d_streak_lo = [63, 110, 122, 100, 90, 90, 95, 128, 122, 120, 100, 100, 100, 100, 100, 100, 100, 118, 100,
                  100, 100, 100, 100, 100, 100, 100, 100, 95, 95, 90, 90, 90, 90, 90, 90, 90, 90, 90, 90, 90,
                  100, 80, 80, 90, 90, 100, 100, 100, 100, 100, 110]
hr_d_streak_hi = [148, 135, 150, 160, 150, 155, 150, 150, 150, 150, 148, 150, 148, 150, 145, 155, 150, 150,
                  155, 150, 150, 148, 150, 155, 150, 150, 150, 150, 152, 150, 152, 150, 150, 152, 150, 152,
                  150, 150, 150, 152, 150, 158, 150, 150, 150, 150, 150, 150, 150, 145, 150]
hr_d_band_t = [49.0, 60.0, 70.0, 80.0, 90.0, 98.0]
hr_d_band_lo = [127, 129, 129, 127, 127, 127]
hr_d_band_hi = [145, 148, 148, 147, 145, 144]

W, H = 1189, 1389
fig = plt.figure(figsize=(W / 100, H / 100), dpi=100)


def make_panel(ytop, ybot, xlim, ylim, rlim, lspine_top, rspine_top, yticks, ylabels, rticks,
               xmajor, xminor, xlabels):
    ax = fig.add_axes([93 / W, 1 - ybot / H, (1114 - 93) / W, (ybot - ytop) / H])
    ax2 = ax.twinx()
    ax.set_xlim(*xlim)
    ax.set_ylim(*ylim)
    ax2.set_ylim(*rlim)
    for s in ['top', 'right']:
        ax.spines[s].set_visible(False)
    for s in ['top', 'left', 'bottom']:
        ax2.spines[s].set_visible(False)
    ax.spines['left'].set_bounds(ylim[0], lspine_top)
    ax2.spines['right'].set_bounds(rlim[0], rspine_top)
    for sp in [ax.spines['left'], ax.spines['bottom'], ax2.spines['right']]:
        sp.set_color('#333333')
        sp.set_linewidth(1.0)
    ax.set_yticks(yticks)
    ax.set_yticklabels(ylabels)
    ax2.set_yticks(rticks)
    ax2.set_yticklabels([str(v) for v in rticks])
    ax.set_xticks(xmajor)
    ax.set_xticklabels(xlabels)
    ax.set_xticks(xminor, minor=True)
    ax.tick_params(axis='x', which='both', direction='out', length=5, width=0.9, colors='#333333',
                   labelcolor=DARK, labelsize=15, pad=6)
    ax.tick_params(axis='y', direction='out', length=5, width=0.9, colors='#333333',
                   labelcolor=DARK, labelsize=15, pad=3)
    ax2.tick_params(axis='y', direction='out', length=5, width=0.9, colors='#333333',
                    labelcolor=DARK, labelsize=15, pad=4)
    return ax, ax2


def draw_boxes(ax, t0s, t1s, tops, bottom):
    for t0, t1, top in zip(t0s, t1s, tops):
        ax.add_patch(Rectangle((t0, bottom), t1 - t0, top - bottom, fill=False, edgecolor=DARK,
                               lw=1.1, zorder=6, clip_on=False))


def draw_arrow(ax, x, y0, y1):
    ar = FancyArrowPatch((x, y0), (x, y1), arrowstyle='->,head_length=0.9,head_width=0.5',
                         mutation_scale=20, lw=1.7, color=DARK, shrinkA=0, shrinkB=0, zorder=10)
    ar.set_clip_on(False)
    ax.add_patch(ar)


def clock(h, m=0):
    h = int(h) % 24
    return '%02d.%02d' % (h, m)


vo2_lab = 'VO$_2$ (l min$^{-1}$)'
lab_fs = 15.5

# ---------- (a) ----------
ax, ax2 = make_panel(75, 311, (7.18, 31.20), (-0.0125, 1.4625), (-2.4, 559.5), 1.41, 531,
                     [0, 0.2, 0.4, 0.6, 0.8, 1.0, 1.2, 1.4],
                     ['0.0', '0.2', '0.4', '0.6', '0.8', '1.0', '1.2', '1.4'],
                     [0, 100, 200, 300, 400, 500],
                     list(range(8, 31, 2)), list(range(9, 32, 2)),
                     [clock(h) for h in range(8, 31, 2)])
t, v = np.array(vo2_a).T
ax.plot(t, v, color=BLUE, lw=1.0, zorder=3)
t, v = np.array(dist_a).T
ax2.plot(t, v, color=RED, lw=1.1, zorder=4)
draw_boxes(ax, box_a_t0, box_a_t1, box_a_top, -0.006)
draw_arrow(ax, *arrow_a)
fig.text(30 / W, 1 - 200 / H, vo2_lab, rotation=90, ha='center', va='center', fontsize=lab_fs)
fig.text(1178 / W, 1 - 206 / H, 'distance (m)', rotation=-90, ha='center', va='center', fontsize=lab_fs)
fig.text(12 / W, 1 - 58 / H, '($a$)', ha='left', va='center', fontsize=15)

# ---------- (b) ----------
ax, ax2 = make_panel(398, 630, (-0.035, 24.10), (-0.0089, 1.0268), (-5.4, 408.9), 1.0, 400,
                     [0, 0.2, 0.4, 0.6, 0.8, 1.0],
                     ['', '0.2', '0.4', '0.6', '0.8', '1.0'],
                     [0, 100, 200, 300, 400],
                     list(range(2, 23, 2)), [0] + list(range(1, 24, 2)),
                     [clock(h) for h in range(2, 23, 2)])
t, v = np.array(vo2_b).T
ax.plot(t, v, color=BLUE, lw=1.0, zorder=3)
t, v = np.array(dist_b).T
ax2.plot(t, v, color=RED, lw=1.1, zorder=4)
draw_boxes(ax, box_b_t0, box_b_t1, box_b_top, -0.006)
draw_arrow(ax, *arrow_b)
fig.text(30 / W, 1 - 527 / H, vo2_lab, rotation=90, ha='center', va='center', fontsize=lab_fs)
fig.text(1178 / W, 1 - 515 / H, 'distance (m)', rotation=-90, ha='center', va='center', fontsize=lab_fs)
fig.text(12 / W, 1 - 378 / H, '($b$)', ha='left', va='center', fontsize=15)
fig.text(72 / W, 1 - 655 / H, '0', ha='center', va='center', fontsize=15)

# ---------- (c) ----------
ax, ax2 = make_panel(748, 989, (1.968, 23.995), (-0.0133, 1.586), (-5.2, 616.0), 1.493, 580,
                     [0, 0.2, 0.4, 0.6, 0.8, 1.0, 1.2, 1.4],
                     ['0.0', '0.2', '0.4', '0.6', '0.8', '1.0', '1.2', '1.4'],
                     [0, 100, 200, 300, 400, 500],
                     list(range(2, 23, 2)), list(range(3, 24, 2)),
                     [clock(h) for h in range(2, 23, 2)])
ax.set_zorder(ax2.get_zorder() + 1)
ax.patch.set_visible(False)
t, v = np.array(dist_c).T
ax2.plot(t, v, color=RED, lw=1.1, zorder=2)
ax2.fill_between(hr_c_t, hr_c_low_top, hr_c_up_bot, facecolor='none', hatch='....',
                 edgecolor=GREEN, lw=0, zorder=3)
ax2.fill_between(hr_c_t, hr_c_up_bot, hr_c_up_top, facecolor=(0, 0.66, 0.42, 0.55), hatch='|||||',
                 edgecolor=GREEN, lw=0, zorder=3)
ax2.fill_between(hr_c_t, hr_c_low_bot, hr_c_low_top, color=GREEN, lw=0, zorder=4)
t, v = np.array(vo2_c).T
ax.plot(t, v, color=BLUE, lw=1.0, zorder=3)
draw_boxes(ax, [box_c_t0], [box_c_t1], [box_c_top], -0.006)
ax.add_patch(Rectangle((grey_c_t0, 0.0), grey_c_t1 - grey_c_t0, grey_c_top, fill=False, edgecolor=GREY,
                       lw=3.0, zorder=7, clip_on=False))
draw_arrow(ax, *arrow_c)
fig.text(30 / W, 1 - 870 / H, vo2_lab, rotation=90, ha='center', va='center', fontsize=lab_fs)
fig.text(1178 / W, 1 - 895 / H, 'distance (m)/heart rate (b.p.m.)', rotation=-90, ha='center',
         va='center', fontsize=lab_fs)
fig.text(12 / W, 1 - 735 / H, '($c$)', ha='left', va='center', fontsize=15)

# ---------- (d) ----------
d_major = list(range(0, 161, 10))
d_labels = [clock(19 + (40 + m) // 60, (40 + m) % 60) for m in d_major]
ax, ax2 = make_panel(1118, 1328, (-0.16, 162.42), (-0.0139, 1.4485), (-5.6, 577.8), 1.4485, 575,
                     [0, 0.2, 0.4, 0.6, 0.8, 1.0, 1.2, 1.4],
                     ['0.0', '0.2', '0.4', '0.6', '0.8', '1.0', '1.2', '1.4'],
                     [0, 100, 200, 300, 400, 500],
                     d_major, list(range(5, 161, 10)), d_labels)
ax.set_zorder(ax2.get_zorder() + 1)
ax.patch.set_visible(False)
ax2.fill_between(hr_d_band_t, hr_d_band_lo, hr_d_band_hi, facecolor=GREEN,
                 hatch='..', edgecolor='white', lw=0, zorder=2)
for t0, t1, h0, h1 in zip(hr_d_dive_t0, hr_d_dive_t1, hr_d_dive_hr0, hr_d_dive_hr1):
    ax2.fill_between([t0, t1], [h0 - 12, h1 - 12], [h0 + 12, h1 + 12], facecolor=GREEN,
                     hatch='...', edgecolor='white', lw=0, zorder=2)
ax2.vlines(hr_d_streak_t, hr_d_streak_lo, hr_d_streak_hi, color=GREEN, lw=2.6,
           linestyles=(0, (0.9, 0.8)), zorder=2)
t, v = np.array(dist_d).T
ax2.plot(t, v, color=RED, lw=1.1, zorder=4)
t, v = np.array(vo2_d).T
ax.plot(t, v, color=NAVY, lw=1.0, zorder=3)
fig.text(30 / W, 1 - 1230 / H, vo2_lab, rotation=90, ha='center', va='center', fontsize=lab_fs)
fig.text(1178 / W, 1 - 1252 / H, 'distance (m)/heart rate (b.p.m.)', rotation=-90, ha='center',
         va='center', fontsize=lab_fs)
fig.text(12 / W, 1 - 1108 / H, '($d$)', ha='left', va='center', fontsize=15)
fig.text(608 / W, 1 - 1378 / H, 'time', ha='center', va='center', fontsize=15)

fig.savefig('out.png', dpi=100)
